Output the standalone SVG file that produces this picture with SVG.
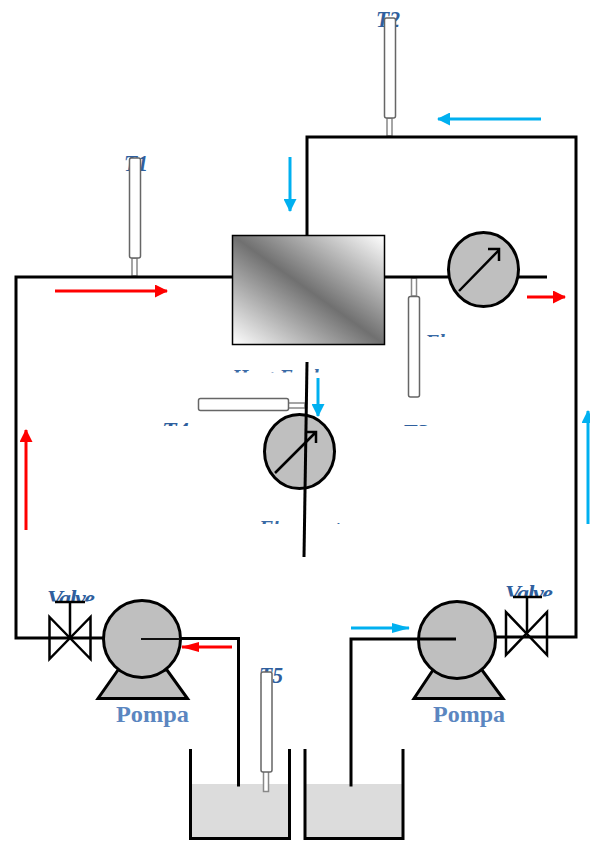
<svg xmlns="http://www.w3.org/2000/svg" width="590" height="841" viewBox="0 0 590 841">
<style>
.pipe{fill:none;stroke:#000;stroke-width:3}
.fine{fill:none;stroke:#111;stroke-width:2}
.thin{fill:none;stroke:#000;stroke-width:2.500}
.gauge{fill:#bfbfbf;stroke:#000;stroke-width:3}
.probe{fill:#fff;stroke:#666;stroke-width:1.500}
.stem{fill:#fff;stroke:#888;stroke-width:1.500}
.lab{font-family:"Liberation Serif",serif;font-weight:bold;font-style:italic;font-size:24px;fill:#2f5f9e}
.frag{font-family:"Liberation Serif",serif;font-weight:bold;font-style:italic;font-size:21px;fill:#3a6aa5}
.pompa{font-family:"Liberation Serif",serif;font-weight:bold;font-size:23px;fill:#5b86c0}
.water{fill:#dcdcdc}
.red{stroke:#ff0000;stroke-width:3;fill:none;marker-end:url(#ar)}
.blue{stroke:#00b0f0;stroke-width:3;fill:none;marker-end:url(#ab)}
</style>
<defs>
<marker id="ar" markerUnits="userSpaceOnUse" markerWidth="13" markerHeight="13" refX="12" refY="6.500" orient="auto"><path d="M0,0L13,6.500L0,13Z" fill="#ff0000"/></marker>
<marker id="ab" markerUnits="userSpaceOnUse" markerWidth="13" markerHeight="13" refX="12" refY="6.500" orient="auto"><path d="M0,0L13,6.500L0,13Z" fill="#00b0f0"/></marker>
<marker id="arl" markerUnits="userSpaceOnUse" markerWidth="18" markerHeight="10" refX="17" refY="5" orient="auto"><path d="M0,0L18,5L0,10Z" fill="#ff0000"/></marker>
<marker id="abl" markerUnits="userSpaceOnUse" markerWidth="18" markerHeight="10" refX="17" refY="5" orient="auto"><path d="M0,0L18,5L0,10Z" fill="#00b0f0"/></marker>
<linearGradient id="hx" x1="0" y1="1" x2="1" y2="0">
<stop offset="0" stop-color="#ffffff"/><stop offset="0.5" stop-color="#707070"/><stop offset="1" stop-color="#ffffff"/>
</linearGradient>
<clipPath id="c1"><rect x="120" y="150" width="40" height="25"/></clipPath>
<clipPath id="c2"><rect x="370" y="5" width="40" height="25"/></clipPath>
<clipPath id="c5"><rect x="250" y="660" width="40" height="26"/></clipPath>
<clipPath id="cv1"><rect x="40" y="585" width="60" height="16.500"/></clipPath>
<clipPath id="cv2"><rect x="500" y="580" width="60" height="16.500"/></clipPath>
<clipPath id="cf1"><rect x="420" y="334" width="90" height="3"/></clipPath>
<clipPath id="che"><rect x="225" y="369" width="100" height="3.500"/></clipPath>
<clipPath id="ct4"><rect x="155" y="422.500" width="40" height="3.500"/></clipPath>
<clipPath id="ct3"><rect x="398" y="424" width="40" height="2"/></clipPath>
<clipPath id="cf2"><rect x="255" y="521" width="90" height="3"/></clipPath>
</defs>
<g id="tank-left"><rect class="water" x="192" y="784" width="97" height="54"/><path class="pipe" d="M190.500,749V838.500H289.500V749"/></g>
<g id="tank-right"><rect class="water" x="306" y="784" width="96" height="54"/><path class="pipe" d="M305,749V838.500H403V749"/></g>
<g id="heat-exchanger"><rect x="232.500" y="235.500" width="152" height="109" fill="url(#hx)" stroke="#000" stroke-width="1.500"/><text class="frag" clip-path="url(#che)" x="232" y="384">Heat Exchanger</text></g>
<g id="t1"><text class="lab" clip-path="url(#c1)" x="124" y="171" textLength="24" lengthAdjust="spacingAndGlyphs">T1</text><rect class="stem" x="132" y="258" width="5" height="18"/><rect class="probe" x="129.500" y="158" width="11" height="100" rx="2"/></g>
<g id="t2"><text class="lab" clip-path="url(#c2)" x="376" y="27" textLength="24" lengthAdjust="spacingAndGlyphs">T2</text><rect class="stem" x="387" y="118" width="5" height="18"/><rect class="probe" x="384.500" y="18" width="11" height="100" rx="2"/></g>
<g id="t3"><rect class="stem" x="411.500" y="278" width="5" height="18"/><rect class="probe" x="408.500" y="296.500" width="11" height="100.500" rx="2"/><text class="lab" clip-path="url(#ct3)" x="402" y="440">T3</text></g>
<g id="t4"><rect class="stem" x="288" y="403" width="17" height="5"/><rect class="probe" x="198.500" y="398.500" width="90" height="12" rx="2"/><text class="lab" clip-path="url(#ct4)" x="162" y="438">T4</text></g>
<g id="t5"><text class="lab" clip-path="url(#c5)" x="259" y="683" textLength="24" lengthAdjust="spacingAndGlyphs">T5</text><rect class="stem" x="263.500" y="771" width="5" height="20.500"/><rect class="probe" x="261" y="672" width="11" height="100" rx="2"/></g>
<g id="flowmeter-1"><ellipse class="gauge" cx="483.500" cy="269.500" rx="35" ry="37"/><path class="thin" d="M459,291L499,250M488,249H499V261"/><text class="frag" clip-path="url(#cf1)" x="425" y="349">Flow meter</text></g>
<g id="flowmeter-2"><ellipse class="gauge" cx="299.500" cy="451.500" rx="35" ry="37"/><path class="thin" d="M275,473L316,432M305,432H316V443"/><text class="frag" clip-path="url(#cf2)" x="259" y="535">Flow meter</text></g>
<g id="pump-left"><path class="gauge" d="M118,670L98,698.500H187.500L167,670Z"/><circle class="gauge" cx="142" cy="639" r="38.500"/><text class="pompa" x="116" y="722" textLength="73" lengthAdjust="spacingAndGlyphs">Pompa</text></g>
<g id="pump-right"><path class="gauge" d="M433,670L414,698.500H503L482,670Z"/><circle class="gauge" cx="457" cy="640" r="38.500"/><text class="pompa" x="433" y="722" textLength="72" lengthAdjust="spacingAndGlyphs">Pompa</text></g>
<g id="valve-left"><text class="lab" clip-path="url(#cv1)" x="47" y="606" font-size="20" textLength="48">Valve</text><path class="thin" d="M49.500,617L90.500,659V617L49.500,659Z"/><path class="thin" d="M70,638V602M55,602H85"/></g>
<g id="valve-right"><text class="lab" clip-path="url(#cv2)" x="505" y="601" font-size="20" textLength="48">Valve</text><path class="thin" d="M506,612L547,655V612L506,655Z"/><path class="thin" d="M527,633V597M513,597H542"/></g>
<g id="connectors">
<path class="pipe" d="M232,277H16V638H104"/>
<path class="fine" d="M141,639H181"/>
<path class="pipe" d="M180,638.500H238.500V786.500"/>
<path class="pipe" d="M351,786.500V639H456"/>
<path class="pipe" d="M496,637H576V137H307V235"/>
<path class="pipe" d="M385,277H448M519,277H547"/>
<path class="pipe" d="M307,362L304,557"/>
<path class="red" d="M55,291H167"/>
<path class="red" d="M527,297H565"/>
<path class="red" d="M26,530V430"/>
<path style="marker-end:url(#arl)" class="red" d="M232,647H182"/>
<path class="blue" d="M541,119H438"/>
<path class="blue" d="M290,157V211"/>
<path class="blue" d="M318,378V416"/>
<path class="blue" d="M588,524V411"/>
<path style="marker-end:url(#abl)" class="blue" d="M351,628H409"/>
</g>
</svg>
